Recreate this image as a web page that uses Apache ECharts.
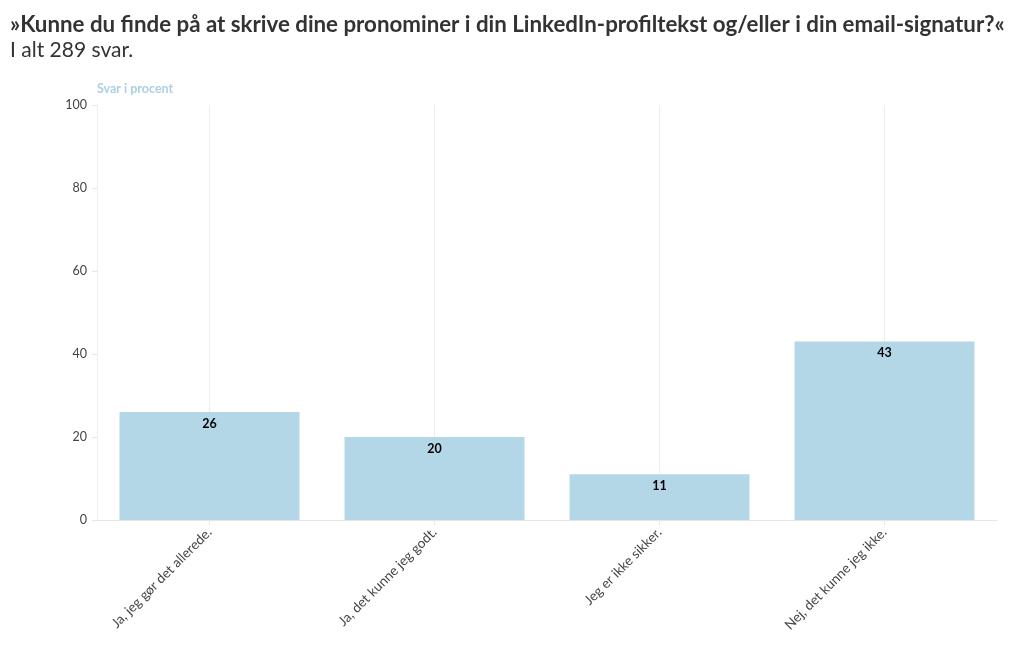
<!DOCTYPE html>
<html>
<head>
<meta charset="utf-8">
<script src="https://cdn.jsdelivr.net/npm/echarts@6/dist/echarts.min.js"></script>
<style>html,body{margin:0;padding:0;background:#fff}#c{width:1020px;height:650px}</style>
</head>
<body>
<div id="c"></div>
<script>
const titleText = '»Kunne du finde på at skrive dine pronominer i din LinkedIn-profiltekst og/eller i din email-signatur?«';
const subtitleText = 'I alt 289 svar.';
const axisTitle = 'Svar i procent';
const categories = ['Ja, jeg gør det allerede.', 'Ja, det kunne jeg godt.', 'Jeg er ikke sikker.', 'Nej, det kunne jeg ikke.'];
const values = [26, 20, 11, 43];
const yTicks = [0, 20, 40, 60, 80, 100];

const FONT = 'Lato, "Noto Sans", sans-serif';
const chart = echarts.init(document.getElementById('c'), null, {renderer: 'canvas'});
chart.setOption({
  animation: false,
  backgroundColor: '#fff',
  textStyle: {fontFamily: FONT},
  title: [
    {text: titleText, left: 5, top: 9, textStyle: {fontFamily: FONT, fontSize: 22.3, fontWeight: 'bold', color: '#333'}},
    {text: subtitleText, left: 5, top: 35, textStyle: {fontFamily: FONT, fontSize: 21, fontWeight: 'normal', color: '#333'}},
    {text: axisTitle, left: 92, top: 77, textStyle: {fontFamily: FONT, fontSize: 12.5, fontWeight: 'bold', color: '#a9d0e5'}}
  ],
  grid: {left: 97, right: 23, top: 105, bottom: 130},
  xAxis: {
    type: 'category',
    data: categories,
    axisLine: {show: true, lineStyle: {color: '#e6e6e6'}},
    axisTick: {show: true, alignWithLabel: true, length: 5, lineStyle: {color: '#e6e6e6'}},
    splitLine: {show: true, alignWithLabel: true, lineStyle: {color: '#eeeeee'}},
    axisLabel: {rotate: 45, fontSize: 13.5, color: '#444', margin: 10, fontFamily: FONT}
  },
  yAxis: {
    type: 'value',
    min: 0, max: 100, interval: 20,
    axisLine: {show: true, lineStyle: {color: '#eeeeee'}},
    axisTick: {show: true, length: 5, lineStyle: {color: '#e6e6e6'}},
    splitLine: {show: false},
    axisLabel: {fontSize: 12.5, color: '#444', margin: 10, fontFamily: FONT,
      formatter: v => yTicks.includes(v) ? String(v) : ''}
  },
  series: [{
    type: 'bar',
    data: values,
    barWidth: '80%',
    itemStyle: {color: '#b4d7e8'},
    label: {show: true, position: 'insideTop', distance: 5, fontSize: 12.5, fontWeight: 'bold', color: '#000', fontFamily: FONT}
  }]
});
</script>
</body>
</html>
